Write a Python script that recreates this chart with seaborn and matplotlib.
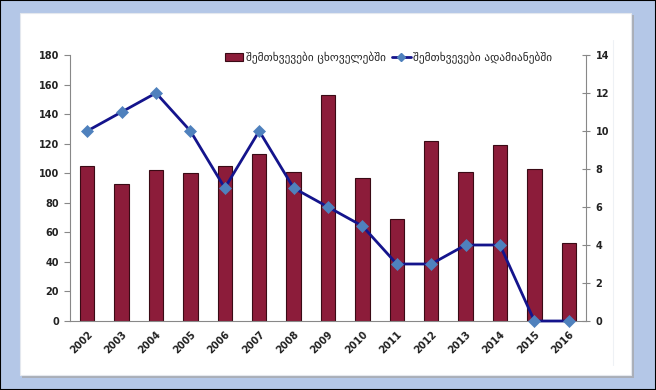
import matplotlib
matplotlib.use("Agg")
import matplotlib.pyplot as plt
import seaborn as sns
import pandas as pd
from matplotlib.patches import Rectangle, Patch
from matplotlib.lines import Line2D

years = ["2002", "2003", "2004", "2005", "2006", "2007", "2008", "2009",
         "2010", "2011", "2012", "2013", "2014", "2015", "2016"]
animals = [105, 93, 102, 100, 105, 113, 101, 153, 97, 69, 122, 101, 119, 103, 53]
humans = [10, 11, 12, 10, 7, 10, 7, 6, 5, 3, 3, 4, 4, 0, 0]
label_animals = "შემთხვევები ცხოველებში"
label_humans = "შემთხვევები ადამიანებში"
left_ticks = [0, 20, 40, 60, 80, 100, 120, 140, 160, 180]
right_ticks = [0, 2, 4, 6, 8, 10, 12, 14]

df = pd.DataFrame({"year": years, "animals": animals, "humans": humans})

sns.set_style("white")
plt.rcParams["font.family"] = ["DejaVu Sans"]

W, H = 656, 390
fig = plt.figure(figsize=(W / 100, H / 100), dpi=100)
fig.patch.set_facecolor("#B4C7E7")

# frame: black border, shadow, inner white panel
fig.patches.append(Rectangle((0, 0), 1, 1, transform=fig.transFigure,
                             fill=False, edgecolor="black", linewidth=1.5, zorder=-5))
fig.patches.append(Rectangle((22 / W, 1 - 378 / H), (632 - 20) / W, (378 - 15) / H,
                             transform=fig.transFigure, facecolor="#A9AEB8",
                             edgecolor="none", zorder=-5))
fig.patches.append(Rectangle((20 / W, 1 - 375 / H), (631 - 20) / W, (375 - 13) / H,
                             transform=fig.transFigure, facecolor="white",
                             edgecolor="#E4E8EE", linewidth=0.8, zorder=-4))
fig.lines.append(Line2D([613 / W, 613 / W], [1 - 365 / H, 1 - 40 / H],
                        transform=fig.transFigure, color="#EEF1F5", linewidth=0.8,
                        zorder=-3))

ax = fig.add_axes([70 / W, 1 - 321 / H, (586 - 70) / W, (321 - 55) / H])
ax.patch.set_alpha(0)

bar_color = "#8C1C3A"
sns.barplot(data=df, x="year", y="animals", ax=ax, color=bar_color,
            width=0.42, edgecolor="#3A0A15", linewidth=0.8, saturation=1)
ax.set_ylim(0, 180)
ax.set_xlim(-0.5, len(years) - 0.5)
ax.set_yticks(left_ticks)
ax.set_xlabel("")
ax.set_ylabel("")

ax2 = ax.twinx()
sns.pointplot(data=df, x="year", y="humans", ax=ax2, color="#14148C",
              markers="D", linestyles="-", errorbar=None)
for ln in ax2.lines:
    ln.set_clip_on(False)
    ln.set_linewidth(2.0)
    ln.set_markersize(6)
    ln.set_markerfacecolor("#4F81BD")
    ln.set_markeredgecolor("#4F81BD")
    ln.set_markeredgewidth(0.5)
ax2.set_ylim(0, 14)
ax2.set_yticks(right_ticks)
ax2.set_ylabel("")
ax2.set_xlim(-0.5, len(years) - 0.5)

for a in (ax, ax2):
    for s in a.spines.values():
        s.set_visible(False)

spine_col = "#888888"
ax.spines["left"].set_visible(True)
ax.spines["left"].set_color(spine_col)
ax.spines["bottom"].set_visible(True)
ax.spines["bottom"].set_color(spine_col)
ax2.spines["right"].set_visible(True)
ax2.spines["right"].set_color(spine_col)

ax.tick_params(axis="y", direction="out", length=4, color=spine_col,
               labelsize=7, pad=4)
ax2.tick_params(axis="y", direction="inout", length=6, color=spine_col,
                labelsize=7, pad=4)
ax.set_xticks(range(len(years)))
ax.set_xticklabels(years, rotation=45, ha="right", rotation_mode="anchor")
ax.tick_params(axis="x", length=0, labelsize=7, pad=6)
ax.set_xticks([i + 0.5 for i in range(-1, len(years))], minor=True)
ax.tick_params(axis="x", which="minor", direction="out", length=4, color=spine_col)

for lbl in ax.get_xticklabels() + ax.get_yticklabels() + ax2.get_yticklabels():
    lbl.set_fontweight("bold")
    lbl.set_color("#222222")

handles = [Patch(facecolor=bar_color, edgecolor="#3A0A15", linewidth=0.8),
           Line2D([0], [0], color="#14148C", linewidth=2.0, marker="D",
                  markersize=4, markerfacecolor="#4F81BD", markeredgecolor="#4F81BD")]
fig.legend(handles, [label_animals, label_humans], loc="center left",
           bbox_to_anchor=(225 / W, 1 - 58 / H), ncol=2, frameon=False,
           fontsize=8.2, handlelength=1.6, handletextpad=0.2, columnspacing=0.6,
           borderaxespad=0, borderpad=0)

fig.savefig("out.png", dpi=100, facecolor=fig.get_facecolor())
